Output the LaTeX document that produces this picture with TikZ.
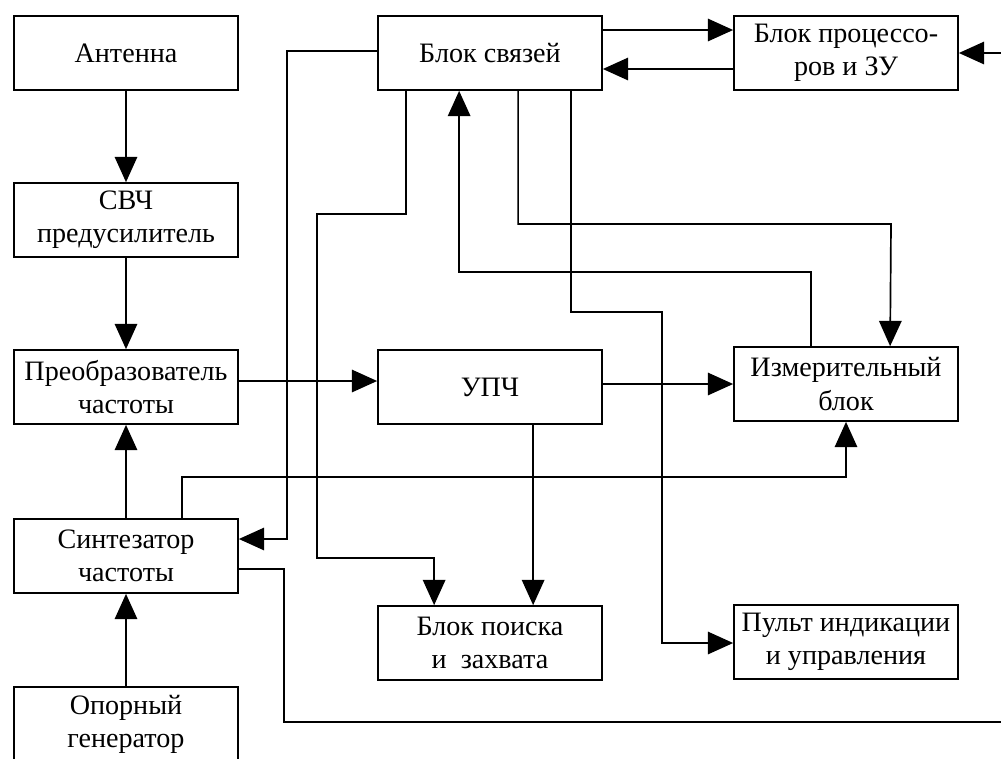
\documentclass[tikz,border=0pt]{standalone}
\usepackage{fontspec}
\setmainfont{Liberation Serif}
\usetikzlibrary{arrows.meta,calc}
\begin{document}
\begin{tikzpicture}[x=0.025cm,y=-0.025cm,
  blk/.style={draw,line width=1.2pt,rectangle,minimum width=5.6cm,minimum height=1.85cm,align=center,inner sep=2pt,
    font=\fontsize{20}{23.5}\selectfont},
  ln/.style={line width=1.2pt},
  arr/.style={ln,-{Triangle[length=18pt,width=16pt]}}]
\clip (0,0) rectangle (1001,758);
\fill[white] (0,0) rectangle (1001,758);
% left column
\node[blk] (ant) at (126,53) {Антенна};
\node[blk] (svch) at (126,220) {СВЧ\\предусилитель};
\node[blk] (preob) at (126,387) {Преобразователь\\частоты};
\node[blk] (synth) at (126,556) {Синтезатор\\частоты};
\node[blk] (opor) at (126,724) {Опорный\\генератор};
% middle column
\node[blk] (svyaz) at (490,53) {Блок связей};
\node[blk] (upch) at (490,387) {УПЧ};
\node[blk] (poisk) at (490,643) {Блок поиска\\и~~захвата};
% right column
\node[blk] (proc) at (846,53) {Блок процессо-\\ров и ЗУ};
\node[blk] (izm) at (846,384) {Измерительный\\блок};
\node[blk] (pult) at (846,642) {Пульт индикации\\и управления};
% free ends at the picture edge
\coordinate (edgeR) at (1001,53);
\coordinate (edgeB) at (1001,722);
% connectors
\draw[arr] (ant) -- (svch);
\draw[arr] (svch) -- (preob);
\draw[arr] (synth) -- (preob);
\draw[arr] (opor) -- (synth);
\draw[arr] ($(preob.east)+(0,-6)$) -- ($(upch.west)+(0,-6)$);
\draw[arr] (upch.east |- izm.west) -- (izm.west);
\draw[arr] ($(svyaz.east)+(0,-23)$) -- ($(proc.west)+(0,-23)$);
\draw[arr] ($(proc.west)+(0,16)$) -- ($(svyaz.east)+(0,16)$);
\draw[arr] (edgeR) -- (proc.east);
\draw[arr] ($(svyaz.west)+(0,-2)$) -| (287,539) -- ($(synth.east)+(0,-17)$);
\draw[arr] ($(svyaz.south west)+(29,0)$) -- ++(0,123) -| (317,558) -| ($(poisk.north west)+(57,0)$);
\draw[arr] ($(izm.north west)+(78,0)$) -- ++(0,-74) -| ($(svyaz.south west)+(82,0)$);
\draw[arr] ($(svyaz.south west)+(141,0)$) |- (891,224) -- ($(izm.north west)+(157,0)$);
\draw[arr] ($(svyaz.south west)+(194,0)$) |- (662,312) |- ($(pult.west)+(0,1)$);
\draw[arr] ($(upch.south west)+(156,0)$) -- ($(poisk.north west)+(156,0)$);
\draw[arr] ($(synth.north west)+(169,0)$) |- (846,477) -- (izm.south);
\draw[ln] ($(synth.east)+(0,13)$) -| (284,722) -- (edgeB);
\end{tikzpicture}
\end{document}
